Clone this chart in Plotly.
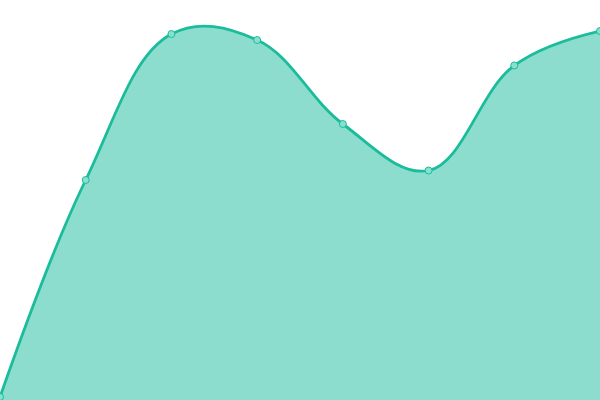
import plotly.graph_objects as go

x_vals = [0, 1, 2, 3, 4, 5, 6, 7]
y_vals = [3, 220, 366, 360, 276, 229.5, 334.5, 369]

line_color = "#1abc9c"
fill_color = "rgba(26,188,156,0.5)"

fig = go.Figure(go.Scatter(
    x=x_vals, y=y_vals,
    mode="lines+markers",
    line=dict(color=line_color, width=2.8, shape="spline", smoothing=1.1),
    fill="tozeroy", fillcolor=fill_color,
    marker=dict(size=7, color="#8ae0cf", line=dict(color=line_color, width=1)),
    cliponaxis=False,
))

fig.update_layout(
    width=600, height=400,
    margin=dict(l=0, r=0, t=0, b=0),
    paper_bgcolor="white", plot_bgcolor="white",
    showlegend=False,
    xaxis=dict(range=[0, 7], visible=False, fixedrange=True),
    yaxis=dict(range=[0, 400], visible=False, fixedrange=True),
)

# drop the browser's default 8px body margin so the plot sits at the corner
fig.write_html("out.html", config={"displayModeBar": False},
               post_script="document.body.style.margin='0';")
